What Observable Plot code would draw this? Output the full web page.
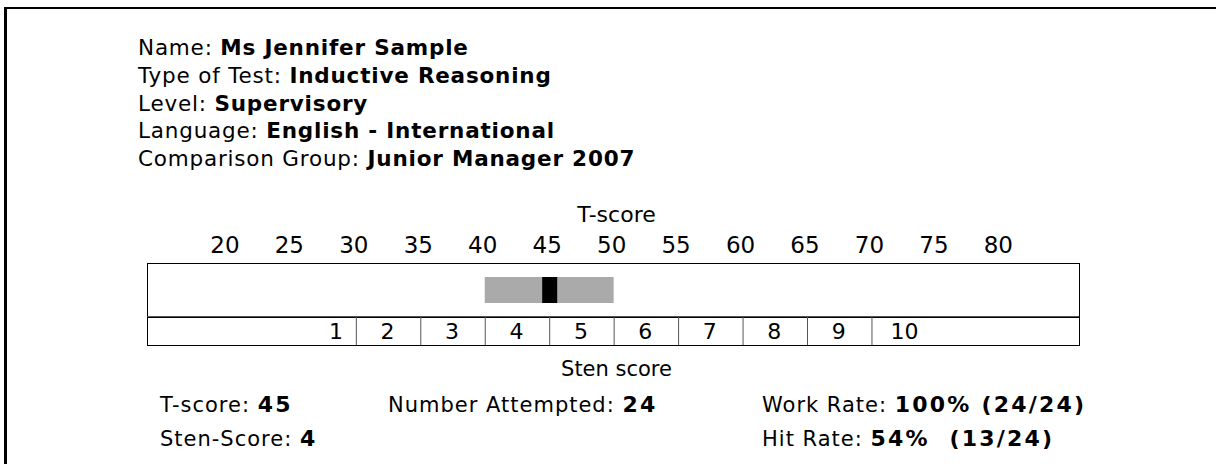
<!DOCTYPE html>
<html>
<head>
<meta charset="utf-8">
<script src="https://cdn.jsdelivr.net/npm/d3@7"></script>
<script src="https://cdn.jsdelivr.net/npm/@observablehq/plot@0.6"></script>
<style>
  html, body { margin: 0; padding: 0; background: #fff; }
  #page { position: relative; width: 1216px; height: 464px; overflow: hidden; background: #fff;
          font-family: "DejaVu Sans", Verdana, sans-serif; color: #000; }
  #border { position: absolute; left: 4px; top: 7px; width: 1400px; height: 600px;
            border-top: 2px solid #000; border-left: 3px solid #000; }
  #header { position: absolute; left: 138px; top: 34px; font-size: 21.5px; letter-spacing: 0.8px; line-height: 27.75px; white-space: pre; }
  #header b { font-weight: bold; }
  .foot { position: absolute; font-size: 21px; letter-spacing: 1px; white-space: pre; line-height: 24px; }
  .foot b { font-weight: bold; font-size: 22px; letter-spacing: 2.2px; }
  #chartT { position: absolute; left: 0; top: 200px; }
  #chartS { position: absolute; left: 0; top: 316px; }
  svg { overflow: visible; }
</style>
</head>
<body>
<div id="page">
  <div id="border"></div>
  <div id="header"></div>
  <div id="chartT"></div>
  <div id="chartS"></div>
  <div id="footer"></div>
</div>
<script>
// ---------- data ----------
const headerLabels = ["Name:", "Type of Test:", "Level:", "Language:", "Comparison Group:"];
const headerValues = ["Ms Jennifer Sample", "Inductive Reasoning", "Supervisory", "English - International", "Junior Manager 2007"];

const tTicks = [20, 25, 30, 35, 40, 45, 50, 55, 60, 65, 70, 75, 80];
const tDomain = [13.8, 86.1];
const stenCuts = [30, 35, 40, 45, 50, 55, 60, 65, 70];
const stenLabels = [1, 2, 3, 4, 5, 6, 7, 8, 9, 10];
const stenLabelT = [28.5, 32.5, 37.5, 42.5, 47.5, 52.5, 57.5, 62.5, 67.5, 72.6];

const tScore = 45;
const bandLow = 40;
const bandHigh = 50;
const stenScore = 4;
const numberAttempted = 24;
const workRate = "100% (24/24)";
const hitRate = "54%  (13/24)";

// ---------- header ----------
const header = document.getElementById("header");
header.innerHTML = headerLabels.map((l, i) => `<div>${l} <b>${headerValues[i]}</b></div>`).join("");

// ---------- T-score row ----------
const W = 1216;
const mL = 147, mR = W - 1079;
const font = "'DejaVu Sans', Verdana, sans-serif";

const plotT = Plot.plot({
  width: W,
  height: 117,
  marginLeft: mL,
  marginRight: mR,
  marginTop: 63,
  marginBottom: 0,
  style: { fontFamily: font, background: "transparent", color: "#000" },
  x: { domain: tDomain },
  marks: [
    Plot.rect([{lo: bandLow, hi: bandHigh}], { x1: "lo", x2: "hi", insetTop: 14, insetBottom: 14, fill: "#aaaaaa" }),
    Plot.tickX([tScore], { x: d => d, stroke: "#000", strokeWidth: 15, insetTop: 14, insetBottom: 14 }),
    Plot.axisX(tTicks, { anchor: "top", tickSize: 0, tickPadding: 11, dx: -2.5, fontSize: 23, label: null, tickFormat: d => String(d) }),
    Plot.text(["T-score"], { frameAnchor: "top", dx: 3, dy: -42, lineAnchor: "bottom", fontSize: 22 }),
    Plot.frame({ stroke: "#000" })
  ]
});
document.getElementById("chartT").appendChild(plotT);

// ---------- Sten row ----------
const plotS = Plot.plot({
  width: W,
  height: 74,
  marginLeft: mL,
  marginRight: mR,
  marginTop: 0,
  marginBottom: 45,
  style: { fontFamily: font, background: "transparent", color: "#000" },
  x: { domain: tDomain, axis: null },
  y: { domain: [0, 1], axis: null },
  marks: [
    Plot.frame({ stroke: "#000" }),
    Plot.ruleY([1], { stroke: "#555" }),
    Plot.ruleX(stenCuts, { stroke: "#555" }),
    Plot.text(stenLabels, { x: (d, i) => stenLabelT[i], y: 0.5, dy: 1, dx: -1, text: d => String(d), fontSize: 22 }),
    Plot.text(["Sten score"], { frameAnchor: "bottom", dx: 3, dy: 30, fontSize: 21 })
  ]
});
document.getElementById("chartS").appendChild(plotS);

// ---------- footer ----------
const footer = document.getElementById("footer");
footer.innerHTML = `
  <div class="foot" style="left:160px; top:393px;">T-score: <b>${tScore}</b></div>
  <div class="foot" style="left:388px; top:393px;">Number Attempted: <b>${numberAttempted}</b></div>
  <div class="foot" style="left:762px; top:393px;">Work Rate: <b>${workRate}</b></div>
  <div class="foot" style="left:160px; top:427px;">Sten-Score: <b>${stenScore}</b></div>
  <div class="foot" style="left:762px; top:427px;">Hit Rate: <b>${hitRate}</b></div>
`;
</script>
</body>
</html>
